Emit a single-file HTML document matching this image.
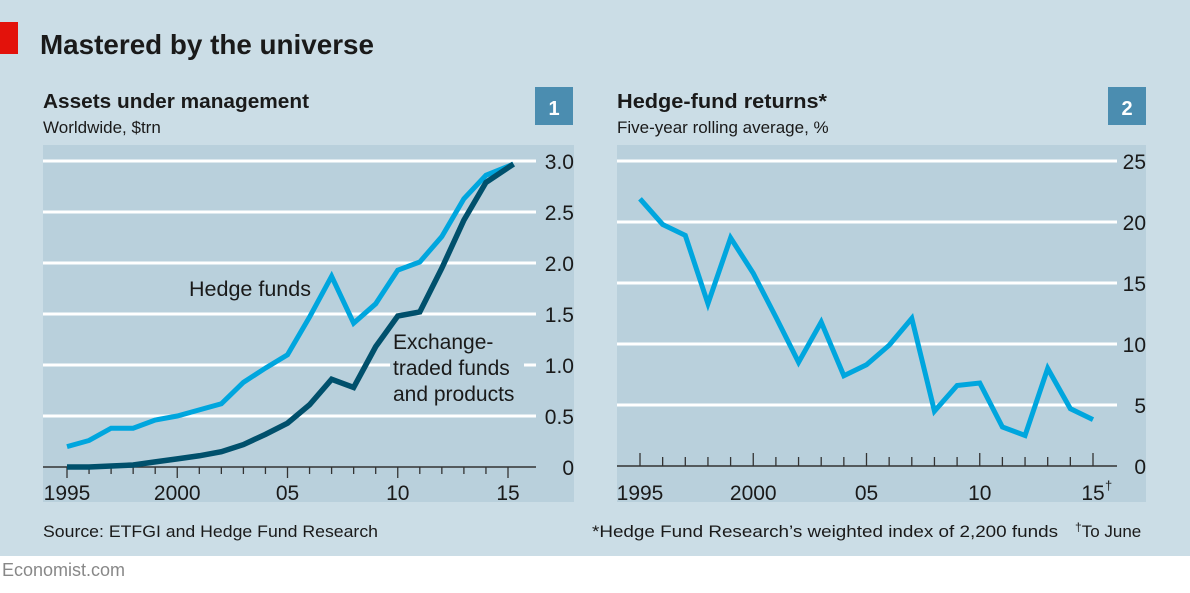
<!DOCTYPE html>
<html><head><meta charset="utf-8"><style>
body{margin:0;width:1190px;height:588px;overflow:hidden;background:#fff;font-family:"Liberation Sans",sans-serif;}
svg text{font-family:"Liberation Sans",sans-serif;}
</style></head><body>
<svg width="1190" height="588">
<rect x="0" y="0" width="1190" height="556" fill="#cbdde6"/>
<rect x="0" y="22" width="18" height="32" fill="#e3120b"/>
<text x="40" y="54" font-size="28" font-weight="bold" fill="#1a1a1a" textLength="334" lengthAdjust="spacingAndGlyphs">Mastered by the universe</text>
<text x="43" y="108" font-size="20" font-weight="bold" fill="#1a1a1a" textLength="266" lengthAdjust="spacingAndGlyphs">Assets under management</text>
<text x="43" y="133" font-size="17" fill="#1a1a1a">Worldwide, $trn</text>
<rect x="535" y="87" width="38" height="38" fill="#4b8db0"/>
<text x="554" y="115" font-size="20" font-weight="bold" fill="#fff" text-anchor="middle">1</text>
<text x="617" y="108" font-size="20" font-weight="bold" fill="#1a1a1a" textLength="210" lengthAdjust="spacingAndGlyphs">Hedge-fund returns*</text>
<text x="617" y="133" font-size="17" fill="#1a1a1a">Five-year rolling average, %</text>
<rect x="1108" y="87" width="38" height="38" fill="#4b8db0"/>
<text x="1127" y="115" font-size="20" font-weight="bold" fill="#fff" text-anchor="middle">2</text>
<rect x="43" y="145" width="531" height="357" fill="#b9d0dc"/>
<rect x="617" y="145" width="529" height="357" fill="#b9d0dc"/>
<g id="left"></g><g id="right"></g>
<text x="43" y="537" font-size="17" fill="#1a1a1a" textLength="335" lengthAdjust="spacingAndGlyphs">Source: ETFGI and Hedge Fund Research</text>
<text x="592" y="537" font-size="17" fill="#1a1a1a" textLength="466" lengthAdjust="spacingAndGlyphs">*Hedge Fund Research’s weighted index of 2,200 funds</text>
<text x="1075" y="537" font-size="17" fill="#1a1a1a"><tspan font-size="12" dy="-6">†</tspan><tspan dy="6">To June</tspan></text>
<text x="2" y="576" font-size="18" fill="#888">Economist.com</text>
</svg>
<script>
const years=[1995,1996,1997,1998,1999,2000,2001,2002,2003,2004,2005,2006,2007,2008,2009,2010,2011,2012,2013,2014,2015.25];
const hedgeFunds=[0.20,0.26,0.38,0.38,0.46,0.50,0.56,0.62,0.83,0.97,1.10,1.47,1.87,1.41,1.60,1.93,2.01,2.26,2.63,2.86,2.97];
const etfs=[0.00,0.00,0.01,0.02,0.05,0.08,0.11,0.15,0.22,0.32,0.43,0.61,0.86,0.78,1.18,1.48,1.52,1.95,2.42,2.79,2.97];
const leftTicks=[0,0.5,1.0,1.5,2.0,2.5,3.0];
const leftTickLabels=["0","0.5","1.0","1.5","2.0","2.5","3.0"];
const retYears=[1995,1996,1997,1998,1999,2000,2001,2002,2003,2004,2005,2006,2007,2008,2009,2010,2011,2012,2013,2014,2015];
const returns=[21.9,19.8,18.9,13.3,18.7,15.8,12.2,8.5,11.8,7.4,8.3,9.9,12.1,4.5,6.6,6.8,3.2,2.5,8.0,4.7,3.8];
const rightTicks=[0,5,10,15,20,25];
const xLabelYears=[1995,2000,2005,2010,2015];
const leftXLabels=["1995","2000","05","10","15"];
const rightXLabels=["1995","2000","05","10","15"];
const NS="http://www.w3.org/2000/svg";
function mk(parent,tag,attrs,txt){const e=document.createElementNS(NS,tag);for(const k in attrs)e.setAttribute(k,attrs[k]);if(txt!=null)e.textContent=txt;parent.appendChild(e);return e;}
const L=document.getElementById('left');
const lx=y=>67+(y-1995)*22.05, ly=v=>467-v*102;
leftTicks.forEach((t,i)=>{
 const g=mk(L,'line',{x1:43,x2:536,y1:ly(t),y2:ly(t),stroke:t===0?'#333':'#fff','stroke-width':t===0?1.5:3});
 
 
 const tx=mk(L,'text',{x:574,y:ly(t)+8,'font-size':21,'text-anchor':'end',fill:'#1a1a1a'},leftTickLabels[i]);
 
 
});
mk(L,'rect',{x:390,y:327,width:134,height:76,fill:'#b9d0dc'});
for(let y=1995;y<=2015;y++){const m=y%5===0;const tk=mk(L,'line',{x1:lx(y),x2:lx(y),y1:467,y2:m?478:474,stroke:'#333','stroke-width':1.3});
 
 }
xLabelYears.forEach((y,i)=>{const t=mk(L,'text',{x:lx(y),y:500,'font-size':21,'text-anchor':'middle',fill:'#1a1a1a'},leftXLabels[i]);
 
 });
function line(par,xs,vs,fx,fy,col,w,name){const p=mk(par,'polyline',{points:xs.map((x,i)=>fx(x)+','+fy(vs[i])).join(' '),fill:'none',stroke:col,'stroke-width':w,'stroke-linejoin':'miter','stroke-linecap':'butt'});
 
 }
line(L,years,hedgeFunds,lx,ly,'#00a6de',5,'hedge-funds-line');
line(L,years,etfs,lx,ly,'#00506c',5.5,'etf-line');
const l1=mk(L,'text',{x:189,y:296,'font-size':21,fill:'#1a1a1a',textLength:122,lengthAdjust:'spacingAndGlyphs'},'Hedge funds');


['Exchange-','traded funds','and products'].forEach((s,i)=>{const t=mk(L,'text',{x:393,y:349+i*26,'font-size':21,fill:'#1a1a1a'},s);
 
 });
const R=document.getElementById('right');
const rx=y=>640+(y-1995)*22.65, ry=v=>466-v*12.2;
rightTicks.forEach(t=>{
 const g=mk(R,'line',{x1:617,x2:1117,y1:ry(t),y2:ry(t),stroke:t===0?'#333':'#fff','stroke-width':t===0?1.5:3});
 
 
 const tx=mk(R,'text',{x:1146,y:ry(t)+8,'font-size':21,'text-anchor':'end',fill:'#1a1a1a'},String(t));
 
 
});
for(let y=1995;y<=2015;y++){const m=y%5===0;const tk=mk(R,'line',{x1:rx(y),x2:rx(y),y1:466,y2:m?453:457,stroke:'#333','stroke-width':1.3});
 
 }
xLabelYears.forEach((y,i)=>{const t=mk(R,'text',{x:rx(y),y:500,'font-size':21,'text-anchor':'middle',fill:'#1a1a1a'},rightXLabels[i]);
 
 });
const dg=mk(R,'text',{x:rx(2015)+12,y:490,'font-size':13,fill:'#1a1a1a'},'†');


line(R,retYears,returns,rx,ry,'#00a6de',5,'returns-line');
</script>
</body></html>
